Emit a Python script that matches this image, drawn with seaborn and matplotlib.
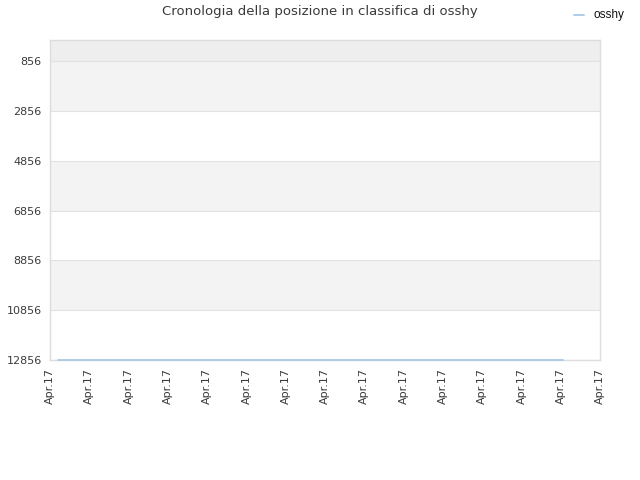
import matplotlib
matplotlib.use("Agg")
import matplotlib.pyplot as plt
import seaborn as sns
import pandas as pd

# data
player = "osshy"
x_pos = [0.2, 13.05]
ranks = [12856, 12856]
tick_values = [856, 2856, 4856, 6856, 8856, 10856, 12856]
x_tick_labels = ["Apr.17"] * 15

df = pd.DataFrame({"x": x_pos, "rank": ranks, "player": player})

sns.set_style("white")
fig = plt.figure(figsize=(6.4, 4.8), dpi=100)
ax = fig.add_axes([50/640, 120/480, 550/640, 320/480])

# bands
ax.axhspan(0, tick_values[0], color="#eeeeee", zorder=0, lw=0)
for i in range(len(tick_values) - 1):
    if i % 2 == 0:
        ax.axhspan(tick_values[i], tick_values[i + 1], color="#f3f3f3", zorder=0, lw=0)
for t in tick_values:
    ax.axhline(t, color="#e2e2e2", lw=0.8, zorder=1)

sns.lineplot(data=df, x="x", y="rank", hue="player", palette=["#a8c8ea"],
             ax=ax, lw=1.3, zorder=5, legend=False)
for ln in ax.lines[-1:]:
    ln.set_clip_on(False)

ax.set_ylim(12856, 0)
ax.set_yticks(tick_values)
ax.set_yticklabels([str(t) for t in tick_values], fontsize=8, color="#3a3a3a")
ax.set_xlim(0, 14)
ax.set_xticks(range(15))
ax.set_xticklabels(x_tick_labels, rotation=90, fontsize=8, color="#3a3a3a")
ax.tick_params(axis="both", length=0, pad=6)
ax.set_xlabel("")
ax.set_ylabel("")
for s in ax.spines.values():
    s.set_color("#dddddd")
    s.set_linewidth(1)
    s.set_zorder(2)

fig.text(0.5, 1 - 12/480, "Cronologia della posizione in classifica di osshy",
         ha="center", va="center", fontsize=9.5, color="#3a3a3a")
fig.lines.append(plt.Line2D([574/640, 584/640], [1 - 15/480, 1 - 15/480],
                            transform=fig.transFigure, color="#a8c8ea", lw=1.3))
fig.text(593/640, 1 - 15/480, player, ha="left", va="center", fontsize=8.5,
         color="#111111", family="Liberation Sans")

fig.savefig("out.png", dpi=100)
